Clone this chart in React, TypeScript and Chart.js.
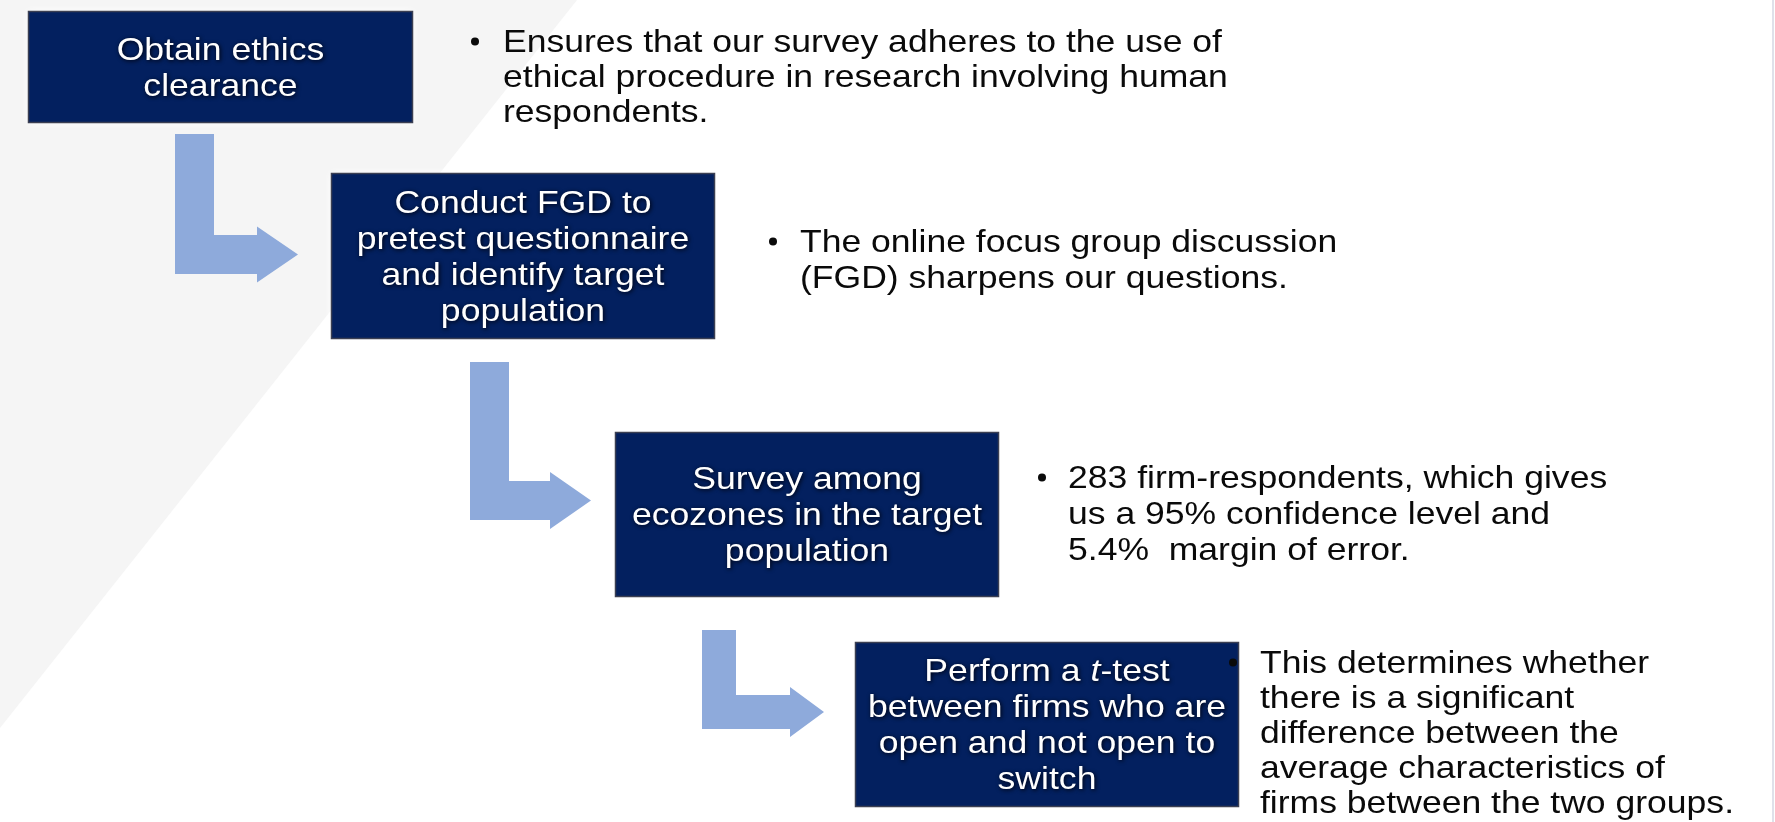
import React, { useEffect, useRef } from "react";
import { Chart, registerables } from "chart.js";

Chart.register(...registerables);

// ---------- content ----------
const stepTitles: string[][] = [
  ["Obtain ethics", "clearance"],
  ["Conduct FGD to", "pretest questionnaire", "and identify target", "population"],
  ["Survey among", "ecozones in the target", "population"],
  ["Perform a *t*-test", "between firms who are", "open and not open to", "switch"],
];

const stepNotes: string[][] = [
  [
    "Ensures that our survey adheres to the use of",
    "ethical procedure in research involving human",
    "respondents.",
  ],
  ["The online focus group discussion", "(FGD) sharpens our questions."],
  ["283 firm-respondents, which gives", "us a 95% confidence level and", "5.4%  margin of error."],
  [
    "This determines whether",
    "there is a significant",
    "difference between the",
    "average characteristics of",
    "firms between the two groups.",
  ],
];

// ---------- layout (scale units, 1 unit = 1 px of the slide) ----------
const boxLeft = [28, 331, 615, 855];
const boxTop = [11, 173, 432, 642];
const boxRight = [413, 715, 999, 1239];
const boxBottom = [123, 339, 597, 807];

const noteX = [503, 800, 1068, 1260];
const noteBaseline = [52, 252, 488, 673];
const noteLineGap = [35, 36, 36, 35];
const bulletX = [475, 773, 1042, 1233];

const arrowStemX = [175, 470, 702];
const arrowTopY = [134, 362, 630];
const arrowBottomY = [274, 520, 729];
const arrowTipX = [298, 591, 824];
const arrowThickness = [39, 39, 34];
const arrowHeadLen = [41, 41, 34];
const arrowHeadHalf = [28, 28.5, 25];

const bgPolyX = [0, 577, 0];
const bgPolyY = [0, 0, 728];

// ---------- styles ----------
const FONT = '"Liberation Sans", Arial, Helvetica, sans-serif';
const BOX_FILL = "#03205f";
const ARROW_FILL = "#8eaadb";
const BG_GRAY = "#f5f5f5";
const BOX_FONT = 31.5;
const BOX_LINE = 36;
const NOTE_FONT = 30.5;
const STRETCH_BOX = 1.13;
const STRETCH_NOTE = 1.165;

const W = 1775;
const H = 822;

function drawRichCentered(ctx: CanvasRenderingContext2D, line: string, cx: number, y: number, size: number, sx: number) {
  const segs = line
    .split("*")
    .map((t, i) => ({ t, it: i % 2 === 1 }))
    .filter((s) => s.t.length > 0);
  const widths = segs.map((s) => {
    ctx.font = `${s.it ? "italic " : ""}${size}px ${FONT}`;
    return ctx.measureText(s.t).width;
  });
  const total = widths.reduce((a, b) => a + b, 0);
  let x = cx - (total * sx) / 2;
  segs.forEach((s, i) => {
    ctx.font = `${s.it ? "italic " : ""}${size}px ${FONT}`;
    ctx.save();
    ctx.translate(x, y);
    ctx.scale(sx, 1);
    ctx.textAlign = "left";
    ctx.fillText(s.t, 0, 0);
    ctx.restore();
    x += widths[i] * sx;
  });
}

const flowPlugin = {
  id: "flowPlugin",
  beforeDraw(chart: any) {
    const ctx: CanvasRenderingContext2D = chart.ctx;
    const xs = chart.scales.x;
    const ys = chart.scales.y;
    const px = (v: number) => xs.getPixelForValue(v);
    const py = (v: number) => ys.getPixelForValue(v);
    ctx.save();
    ctx.fillStyle = "#ffffff";
    ctx.fillRect(0, 0, chart.width, chart.height);
    ctx.fillStyle = BG_GRAY;
    ctx.beginPath();
    bgPolyX.forEach((v, i) => {
      if (i === 0) ctx.moveTo(px(v), py(bgPolyY[i]));
      else ctx.lineTo(px(v), py(bgPolyY[i]));
    });
    ctx.closePath();
    ctx.fill();
    ctx.fillStyle = "#dfe1ea";
    ctx.fillRect(px(1772), 0, 2, chart.height);
    ctx.restore();
  },
  afterDatasetsDraw(chart: any) {
    const ctx: CanvasRenderingContext2D = chart.ctx;
    const xs = chart.scales.x;
    const ys = chart.scales.y;
    const px = (v: number) => xs.getPixelForValue(v);
    const py = (v: number) => ys.getPixelForValue(v);

    // arrows
    arrowStemX.forEach((sxv, i) => {
      const t = arrowThickness[i];
      const ab = arrowBottomY[i];
      const at = ab - t;
      const cy = ab - t / 2;
      const tip = arrowTipX[i];
      const hb = tip - arrowHeadLen[i];
      const hh = arrowHeadHalf[i];
      const pts: [number, number][] = [
        [sxv, arrowTopY[i]],
        [sxv + t, arrowTopY[i]],
        [sxv + t, at],
        [hb, at],
        [hb, cy - hh],
        [tip, cy],
        [hb, cy + hh],
        [hb, ab],
        [sxv, ab],
      ];
      ctx.save();
      ctx.fillStyle = ARROW_FILL;
      ctx.beginPath();
      pts.forEach(([a, b], k) => {
        if (k === 0) ctx.moveTo(px(a), py(b));
        else ctx.lineTo(px(a), py(b));
      });
      ctx.closePath();
      ctx.fill();
      ctx.restore();
    });

    // boxes
    stepTitles.forEach((lines, i) => {
      const l = px(boxLeft[i]);
      const r = px(boxRight[i]);
      const t = py(boxTop[i]);
      const b = py(boxBottom[i]);
      ctx.save();
      ctx.shadowColor = "rgba(255,255,255,1)";
      ctx.shadowBlur = 8;
      ctx.fillStyle = BOX_FILL;
      ctx.fillRect(l, t, r - l, b - t);
      ctx.restore();
      ctx.save();
      ctx.strokeStyle = "#3b3f52";
      ctx.lineWidth = 1.5;
      ctx.strokeRect(l + 0.5, t + 0.5, r - l - 1, b - t - 1);
      ctx.restore();

      const cx = (l + r) / 2;
      const cy = (t + b) / 2;
      const first = cy - ((lines.length - 1) / 2) * BOX_LINE + 10.5;
      ctx.save();
      ctx.fillStyle = "#ffffff";
      ctx.shadowColor = "rgba(0,0,10,1)";
      ctx.shadowBlur = 4;
      ctx.shadowOffsetX = 1;
      ctx.shadowOffsetY = 1;
      ctx.textBaseline = "alphabetic";
      lines.forEach((ln, k) => {
        drawRichCentered(ctx, ln, cx, first + k * BOX_LINE, BOX_FONT, STRETCH_BOX);
      });
      ctx.restore();
    });

    // notes
    stepNotes.forEach((lines, i) => {
      const x0 = px(noteX[i]);
      const y0 = py(noteBaseline[i]);
      ctx.save();
      ctx.fillStyle = "#0a0a0a";
      ctx.beginPath();
      ctx.arc(px(bulletX[i]), y0 - 10.5, 4, 0, Math.PI * 2);
      ctx.fill();
      ctx.font = `${NOTE_FONT}px ${FONT}`;
      ctx.textAlign = "left";
      ctx.textBaseline = "alphabetic";
      lines.forEach((ln, k) => {
        ctx.save();
        ctx.translate(x0, y0 + k * noteLineGap[i]);
        ctx.scale(STRETCH_NOTE, 1);
        ctx.fillText(ln, 0, 0);
        ctx.restore();
      });
      ctx.restore();
    });
  },
};

export default function App() {
  const ref = useRef<HTMLCanvasElement>(null);
  useEffect(() => {
    if (!ref.current) return;
    const centers = boxLeft.map((l, i) => ({
      x: (l + boxRight[i]) / 2,
      y: (boxTop[i] + boxBottom[i]) / 2,
    }));
    const chart = new Chart(ref.current, {
      type: "scatter",
      data: {
        datasets: [
          {
            label: "steps",
            data: centers,
            pointRadius: 0,
            pointHoverRadius: 0,
            showLine: false,
          },
        ],
      },
      options: {
        responsive: false,
        animation: false,
        events: [],
        layout: { padding: 0 },
        plugins: {
          legend: { display: false },
          tooltip: { enabled: false },
        },
        scales: {
          x: { type: "linear", min: 0, max: W, display: false },
          y: { type: "linear", min: 0, max: H, reverse: true, display: false },
        },
      },
      plugins: [flowPlugin],
    } as any);
    return () => chart.destroy();
  }, []);
  return (
    <div style={{ position: "absolute", left: 0, top: 0, width: W, height: H }}>
      <canvas ref={ref} width={W} height={H} style={{ display: "block", width: W, height: H }} />
    </div>
  );
}
